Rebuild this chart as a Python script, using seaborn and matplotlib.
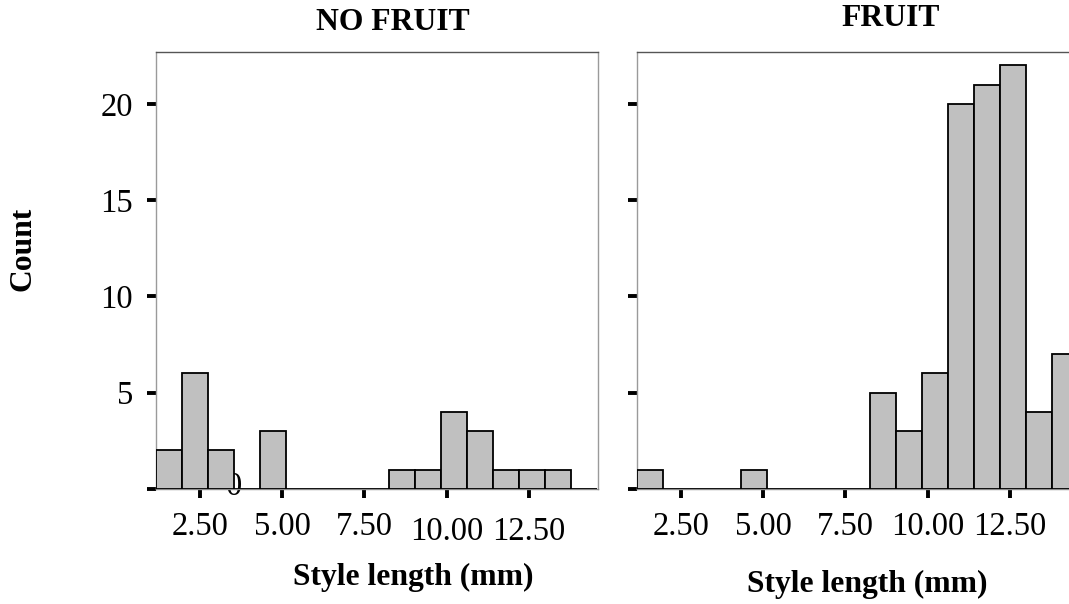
import numpy as np
import pandas as pd
import matplotlib
matplotlib.use("Agg")
import matplotlib.pyplot as plt
import matplotlib.transforms as mtransforms
import seaborn as sns

# Histogram bins for style length (mm)
bin_start = 1.15
bin_width = 0.79
n_bins = 17

# Counts per bin for the two groups
counts_no_fruit = [2, 6, 2, 0, 3, 0, 0, 0, 0, 1, 1, 4, 3, 1, 1, 1, 0]
counts_fruit = [1, 0, 0, 0, 1, 0, 0, 0, 0, 5, 3, 6, 20, 21, 22, 4, 7]

panel_titles = ["NO FRUIT", "FRUIT"]
x_ticks = [2.5, 5.0, 7.5, 10.0, 12.5]
x_tick_labels = ["2.50", "5.00", "7.50", "10.00", "12.50"]
y_ticks = [0, 5, 10, 15, 20]
y_tick_labels = ["", "5", "10", "15", "20"]
x_label = "Style length (mm)"
y_label = "Count"

sns.set_theme(style="white")
plt.rcParams["font.family"] = ["Liberation Serif", "DejaVu Serif"]
plt.rcParams["text.color"] = "black"
plt.rcParams["xtick.labelcolor"] = "black"
plt.rcParams["ytick.labelcolor"] = "black"

edges = [bin_start + bin_width * i for i in range(n_bins + 1)]
centers = [(edges[i] + edges[i + 1]) / 2 for i in range(n_bins)]

W, H = 1069, 604
fig = plt.figure(figsize=(W / 100, H / 100), dpi=100)

def fx(px):
    return px / W

def fy(py):
    return 1 - py / H

ax_w = fx(442)
ax_h = fy(52) - fy(489)
ax_left = fig.add_axes([fx(155.7), fy(489), ax_w, ax_h])
ax_right = fig.add_axes([fx(636.7), fy(489), ax_w, ax_h])

tick_size = 23.5
label_size = 22.8

for ax, counts in [(ax_left, counts_no_fruit), (ax_right, counts_fruit)]:
    df = pd.DataFrame({"length": centers, "n": counts})
    sns.histplot(data=df, x="length", weights="n", bins=edges, ax=ax,
                 color="#c0c0c0", edgecolor="black", linewidth=1.3,
                 alpha=1.0, zorder=3)
    ax.set_xlim(1.15, 14.6)
    ax.set_ylim(0, 22.7)
    ax.set_xticks(x_ticks)
    ax.set_yticks(y_ticks)
    ax.set_xlabel("")
    ax.set_ylabel("")
    for side in ["left", "right", "top", "bottom"]:
        ax.spines[side].set_visible(True)
        ax.spines[side].set_linewidth(1.0)
    ax.spines["left"].set_color("#9a9a9a")
    ax.spines["right"].set_color("#9a9a9a")
    ax.spines["top"].set_color("#555555")
    ax.spines["bottom"].set_color("#8a8a8a")
    ax.tick_params(axis="both", which="major", direction="out",
                   color="black", width=2.8, length=6.5,
                   labelsize=tick_size, labelcolor="black",
                   bottom=True, left=True, top=False, right=False)
    ax.tick_params(axis="x", pad=10)
    ax.tick_params(axis="y", pad=10)

ax_left.set_xticklabels(x_tick_labels)
ax_left.set_yticklabels(y_tick_labels)
ax_right.set_xticklabels(x_tick_labels)
ax_right.set_yticklabels([""] * len(y_ticks))

# The two rightmost labels of the left panel sit a little lower
for lbl in ax_left.get_xticklabels()[3:]:
    lbl.set_transform(lbl.get_transform() +
                      mtransforms.ScaledTranslation(0, -5 / 100, fig.dpi_scale_trans))

# Stray zero label of the left y axis, partly hidden behind the bars
ax_left.text(3.52, 0.1, "0", fontsize=tick_size, ha="center", va="center",
             color="black", zorder=1, clip_on=False)

# Titles and axis labels
fig.text(fx(393), fy(23), panel_titles[0], fontsize=label_size, fontweight="bold",
         ha="center", va="center")
fig.text(fx(891), fy(19), panel_titles[1], fontsize=label_size, fontweight="bold",
         ha="center", va="center")
fig.text(fx(413), fy(577), x_label, fontsize=label_size, fontweight="bold",
         ha="center", va="center")
fig.text(fx(867), fy(584), x_label, fontsize=label_size, fontweight="bold",
         ha="center", va="center")
fig.text(fx(23), fy(249), y_label, fontsize=label_size, fontweight="bold",
         ha="center", va="center", rotation=90)

fig.savefig("out.png", dpi=100, facecolor="white")
